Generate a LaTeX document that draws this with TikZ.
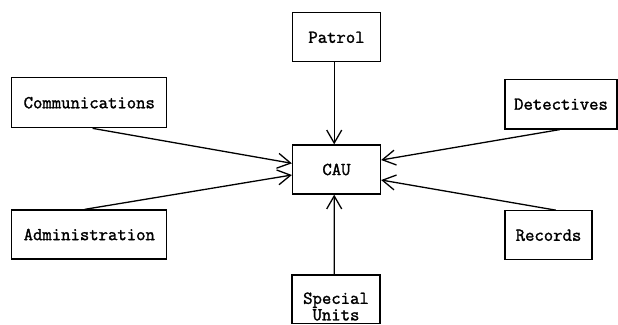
\documentclass[tikz,border=0pt]{standalone}
\usepackage{fontspec}
\newfontfamily\typefont{Latin Modern Mono}[FakeBold=1.6]
\usetikzlibrary{arrows.meta}
\begin{document}
\begin{tikzpicture}[x=1bp,y=-1bp,
  unit/.style={draw=black, line width=1.3bp, rectangle, inner sep=0pt,
    font=\typefont\fontsize{18.2bp}{16.5bp}\selectfont, align=center},
  feed/.style={draw=black, line width=1.3bp,
    -{Straight Barb[length=13bp,width=15bp,line width=1.3bp]}}]
\useasboundingbox (0,0) rectangle (618,324);

% central unit and the six sections reporting to it
\node[unit, minimum width=88bp, minimum height=49bp] (cau) at (336.5,169.5) {CAU};
\node[unit, minimum width=88bp, minimum height=49bp] (patrol) at (336.5,37.3) {Patrol};
\node[unit, minimum width=155bp, minimum height=50bp] (comm) at (89.3,102.7) {Communications};
\node[unit, minimum width=155bp, minimum height=49bp] (admin) at (89.3,234.5) {Administration};
\node[unit, minimum width=112bp, minimum height=49.5bp] (det) at (561,104.2) {Detectives};
\node[unit, minimum width=87bp, minimum height=49bp] (rec) at (548.5,235.3) {Records};
\node[unit, minimum width=88bp, minimum height=48.5bp] (su) at (336,299.2)
  {\rule{0pt}{26bp}Special\\Units};

% connectors into the central unit
\draw[feed] ([xshift=-2.3bp]patrol.south) -- ([xshift=-2.3bp]cau.north);
\draw[feed] ([xshift=-1.8bp]su.north) -- ([xshift=-2.3bp]cau.south);
\draw[feed] ([xshift=3.3bp]comm.south) -- ([yshift=6.2bp]cau.west);
\draw[feed] ([xshift=-4.6bp]admin.north) -- ([yshift=-5.5bp]cau.west);
\draw[feed] ([xshift=-1.3bp]det.south) -- ([yshift=9.5bp]cau.east);
\draw[feed] ([xshift=7.3bp]rec.north) -- ([yshift=-10.5bp]cau.east);
\end{tikzpicture}
\end{document}
